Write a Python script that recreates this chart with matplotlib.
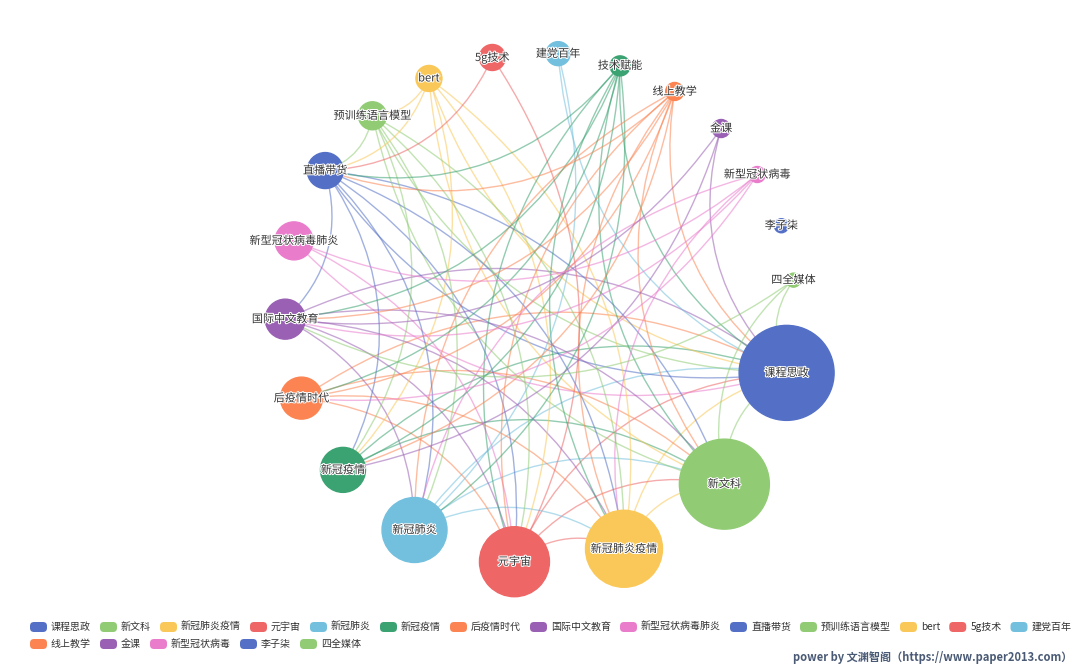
import numpy as np
import matplotlib
matplotlib.use("Agg")
import matplotlib.pyplot as plt
from matplotlib.path import Path
from matplotlib.patches import PathPatch, FancyBboxPatch
import matplotlib.patheffects as pe

plt.rcParams['font.family'] = ['Noto Sans CJK SC', 'DejaVu Sans']

nodes = ['课程思政','新文科','新冠肺炎疫情','元宇宙','新冠肺炎','新冠疫情','后疫情时代','国际中文教育',
         '新型冠状病毒肺炎','直播带货','预训练语言模型','bert','5g技术','建党百年','技术赋能','线上教学',
         '金课','新型冠状病毒','李子柒','四全媒体']
sizes = [95, 90, 77, 70, 65, 45, 42, 40, 38, 36, 28, 26, 26, 24, 20, 18, 18, 16, 14, 14]
edges = [
 ('新文科','课程思政'),('新冠肺炎疫情','课程思政'),('元宇宙','课程思政'),('新冠肺炎','课程思政'),
 ('新冠疫情','课程思政'),('后疫情时代','课程思政'),('国际中文教育','课程思政'),('新型冠状病毒肺炎','课程思政'),
 ('直播带货','课程思政'),('预训练语言模型','课程思政'),('bert','课程思政'),('建党百年','课程思政'),
 ('技术赋能','课程思政'),('线上教学','课程思政'),('金课','课程思政'),('四全媒体','课程思政'),
 ('新冠肺炎疫情','新文科'),('元宇宙','新文科'),('新冠肺炎','新文科'),('新冠疫情','新文科'),
 ('后疫情时代','新文科'),('国际中文教育','新文科'),('直播带货','新文科'),('预训练语言模型','新文科'),
 ('bert','新文科'),('技术赋能','新文科'),('线上教学','新文科'),('四全媒体','新文科'),
 ('元宇宙','新冠肺炎疫情'),('新冠肺炎','新冠肺炎疫情'),('后疫情时代','新冠肺炎疫情'),('国际中文教育','新冠肺炎疫情'),
 ('直播带货','新冠肺炎疫情'),('预训练语言模型','新冠肺炎疫情'),('bert','新冠肺炎疫情'),('技术赋能','新冠肺炎疫情'),
 ('线上教学','新冠肺炎疫情'),('新型冠状病毒','新冠肺炎疫情'),
 ('5g技术','元宇宙'),('直播带货','元宇宙'),('预训练语言模型','元宇宙'),('bert','元宇宙'),('新型冠状病毒肺炎','元宇宙'),
 ('国际中文教育','元宇宙'),('后疫情时代','元宇宙'),('技术赋能','元宇宙'),('线上教学','元宇宙'),
 ('建党百年','新冠肺炎'),('技术赋能','新冠肺炎'),('线上教学','新冠肺炎'),('直播带货','新冠肺炎'),
 ('国际中文教育','新冠肺炎'),('预训练语言模型','新冠肺炎'),('新型冠状病毒','新冠肺炎'),
 ('技术赋能','新冠疫情'),('线上教学','新冠疫情'),('直播带货','新冠疫情'),('预训练语言模型','新冠疫情'),
 ('金课','新冠疫情'),('bert','新冠疫情'),
 ('技术赋能','后疫情时代'),('线上教学','后疫情时代'),('新型冠状病毒','后疫情时代'),
 ('技术赋能','国际中文教育'),('线上教学','国际中文教育'),('直播带货','国际中文教育'),('新型冠状病毒','国际中文教育'),
 ('金课','国际中文教育'),('四全媒体','国际中文教育'),
 ('bert','直播带货'),('预训练语言模型','直播带货'),('技术赋能','直播带货'),('5g技术','直播带货'),
 ('新型冠状病毒','新型冠状病毒肺炎'),('bert','预训练语言模型'),('线上教学','直播带货'),
]
colors = ['#5470c6','#91cc75','#fac858','#ee6666','#73c0de','#3ba272','#fc8452','#9a60b4','#ea7ccc']

W, H = 1080, 667
fig = plt.figure(figsize=(10.8, 6.67), dpi=100)
ax = fig.add_axes([0, 0, 1, 1])
ax.set_xlim(0, W); ax.set_ylim(H, 0); ax.axis('off')

cx, cy, R = 540, 308, 255
weights = [s + 46 for s in sizes]
tot = sum(weights)
pos = {}
ang = 0.0
for n, w in zip(nodes, weights):
    half = np.pi * w / tot
    a = ang - half
    pos[n] = (cx + R*np.cos(a), cy - R*np.sin(a))
    ang -= 2*half
col = {n: colors[i % len(colors)] for i, n in enumerate(nodes)}

for s, t in edges:
    x1, y1 = pos[s]; x2, y2 = pos[t]
    mx, my = (x1+x2)/2, (y1+y2)/2
    dx, dy = x2-x1, y2-y1
    c = 0.3
    px, py = mx + c*dy, my - c*dx
    if (px-cx)**2+(py-cy)**2 > (mx - c*dy - cx)**2 + (my + c*dx - cy)**2:
        px, py = mx - c*dy, my + c*dx
    p = Path([(x1,y1),(px,py),(x2,y2)], [Path.MOVETO, Path.CURVE3, Path.CURVE3])
    ax.add_patch(PathPatch(p, fc='none', ec=col[s], lw=1, alpha=0.55, zorder=1))

for n, s in zip(nodes, sizes):
    x, y = pos[n]
    ax.add_patch(plt.Circle((x, y), s/2, color=col[n], zorder=2))
    ax.text(x, y, n, ha='center', va='center', fontsize=8, color='#333', zorder=3,
            path_effects=[pe.withStroke(linewidth=1.5, foreground='white')])

row1 = nodes[:15]; row2 = nodes[15:]
fs = 7.2
def draw_row(items, y, x0):
    x = x0
    r = fig.canvas.get_renderer()
    for n in items:
        ax.add_patch(FancyBboxPatch((x, y-5), 17, 10, boxstyle='round,pad=0,rounding_size=4',
                                    fc=col[n], ec='none'))
        t = ax.text(x+21, y, n, fontsize=fs, va='center', ha='left', color='#333')
        bb = t.get_window_extent(renderer=r)
        x += 21 + bb.width + 9
draw_row(row1, 627, 30)
draw_row(row2, 644, 30)
ax.text(1072, 657, 'power by 文渊智阁（https://www.paper2013.com）', ha='right', va='center',
        fontsize=8, color='#4a5a75', fontweight='bold')

fig.savefig('out.png', dpi=100)
